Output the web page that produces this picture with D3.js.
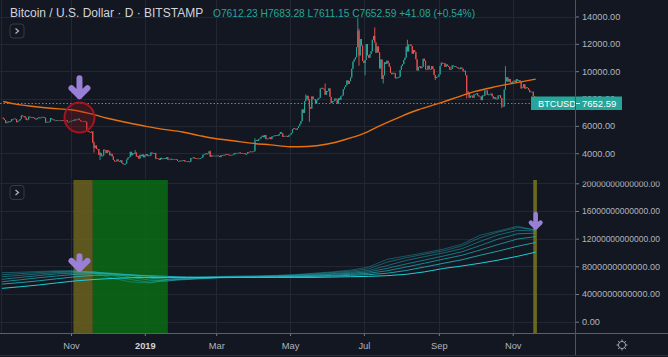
<!DOCTYPE html>
<html><head><meta charset="utf-8">
<script src="https://cdn.jsdelivr.net/npm/d3@7"></script>
<style>
html,body{margin:0;padding:0;background:#131722;overflow:hidden}
svg{display:block}
text{font-family:"Liberation Sans",Arial,sans-serif}
</style>
</head><body><svg id="c" width="668" height="357"></svg>
<script>
// ---------------- DATA ----------------
const title = "Bitcoin / U.S. Dollar · D · BITSTAMP";
const ohlcText = "O7612.23 H7683.28 L7611.15 C7652.59 +41.08 (+0.54%)";
const symbol = "BTCUSD";
const lastPrice = 7652.59;
const firstOpen = 6600;

const monthStarts = ["2018-09-06","2018-10-01","2018-11-01","2018-12-01","2019-01-01","2019-02-01","2019-03-01",
  "2019-04-01","2019-05-01","2019-06-01","2019-07-01","2019-08-01","2019-09-01","2019-10-01","2019-11-01"];
const monthCloses = [
 [6520,6420,6200,6250,6320,6290,6330,6500,6500,6530,6500,6270,6350,6400,6500,6760,6720,6710,6600,6430,6460,6680,6640,6600,6630],
 [6590,6510,6480,6570,6610,6570,6600,6660,6640,6590,6250,6290,6300,6290,6560,6480,6470,6400,6390,6410,6410,6400,6400,6420,6400,6410,6420,6410,6270,6280,6320],
 [6360,6400,6370,6480,6410,6460,6530,6420,6340,6360,6360,6350,6300,5650,5600,5540,5520,5590,4770,4390,4560,4320,4300,3880,4000,3780,3820,4260,4230,4010],
 [4200,4130,3850,3950,3760,3500,3400,3410,3540,3420,3380,3480,3280,3200,3200,3230,3530,3670,3720,4100,3850,4000,3960,4050,3760,3800,3600,3880,3780,3900,3700],
 [3850,3940,3790,3840,3820,4050,3990,4000,4020,3640,3630,3600,3500,3660,3570,3610,3650,3590,3700,3530,3550,3590,3560,3580,3570,3570,3530,3430,3400,3460,3440],
 [3470,3500,3400,3410,3430,3380,3370,3650,3650,3690,3620,3640,3620,3600,3620,3640,3690,3890,3920,3980,3930,3980,4130,3750,3830,3800,3820,3820],
 [3830,3830,3800,3710,3860,3870,3880,3860,3940,3920,3860,3880,3870,3870,3910,4020,3990,3990,4020,4050,3990,4000,4010,3990,3920,3950,4080,4070,4130,4120,4110],
 [4140,4890,4970,4900,5030,5070,5190,5280,5170,5330,5030,5070,5080,5150,5030,5220,5260,5300,5280,5330,5290,5400,5550,5450,5200,5260,5270,5260,5200,5320],
 [5370,5480,5750,5820,5770,5720,5840,5980,6150,6350,7200,6950,7800,7980,8200,7870,7350,7260,8150,7960,7950,7630,7880,7990,8060,8730,8780,8720,8660,8270,8550],
 [8550,8740,8120,7680,7790,7810,8000,7930,7630,8020,7900,8170,8230,8680,8850,8980,9320,9080,9270,9530,10180,10700,10860,11020,11750,12950,11150,12350,11870,10750],
 [10600,10820,11980,11160,10980,11250,11460,12300,12570,12100,11350,11810,11380,10200,10850,9430,9700,10640,10530,10760,10590,10330,9880,9780,9880,9850,9480,9530,9510,9590,10090],
 [10400,10520,10820,10990,11790,11440,11950,11950,11840,11280,11540,11390,10870,10050,10310,10350,10220,10320,10910,10760,10130,10110,10400,10150,10130,10360,10160,9720,9490,9580,9600],
 [9760,10380,10620,10590,10580,10320,10490,10390,10320,10110,10160,10420,10360,10370,10310,10260,10190,10160,10270,10180,9990,10030,9700,8530,8430,8060,8200,8210,8060,8300],
 [8320,8380,8230,8150,8150,7880,8220,8200,8590,8590,8270,8300,8290,8360,8160,8000,8080,7960,7960,8230,8230,8030,7470,7420,8660,9260,9550,9240,9430,9180,9150],
 [9250,9310,9200,9410,9310,9350,9210,8770,8810,9040,8730,8820,8770,8640,8470,8500,8500,8180,8120,8090]
];
const wickDates = ["2018-11-20","2018-11-25","2018-12-15","2018-12-24","2019-01-10","2019-02-24","2019-04-02","2019-05-14",
  "2019-05-17","2019-05-30","2019-06-26","2019-06-27","2019-07-02","2019-07-10","2019-07-17","2019-08-06","2019-08-29",
  "2019-09-24","2019-10-23","2019-10-25","2019-10-26","2019-11-08"];
const wickHighs = [4850,4100,null,4230,null,4200,5100,8300,7950,9100,13880,13100,null,13200,null,12300,null,null,null,null,10370,null];
const wickLows  = [4050,3500,3150,null,3560,3730,null,null,6300,null,11750,10400,9700,null,9100,null,9350,8000,7300,7400,8970,8700];

// 200-day moving average
const maDates = ["2018-09-06","2018-09-15","2018-10-01","2018-10-15","2018-11-01","2018-11-15","2018-12-01","2018-12-15",
  "2019-01-01","2019-01-15","2019-02-01","2019-02-15","2019-03-01","2019-03-15","2019-04-01","2019-04-15","2019-05-01",
  "2019-05-15","2019-06-01","2019-06-15","2019-07-01","2019-07-15","2019-08-01","2019-08-15","2019-09-01","2019-09-15",
  "2019-10-01","2019-10-15","2019-11-01","2019-11-20"];
const maValues = [7780,7610,7420,7285,7175,6935,6560,6280,5985,5760,5550,5290,5060,4910,4715,4610,4470,4490,4670,4985,
  5450,6040,6700,7180,7650,8060,8520,8810,9110,9420];

// lower pane ribbon (units of 1e12)
const ribbonDates = ["2018-09-05","2018-09-20","2018-10-05","2018-10-20","2018-11-05","2018-11-20","2018-12-05","2018-12-20",
  "2019-01-05","2019-01-20","2019-02-05","2019-02-20","2019-03-05","2019-03-20","2019-04-05","2019-04-20","2019-05-05",
  "2019-05-20","2019-06-05","2019-06-20","2019-07-05","2019-07-20","2019-08-05","2019-08-20","2019-09-05","2019-09-20",
  "2019-10-05","2019-10-20","2019-11-05","2019-11-20"];
const ribbon1 = [7.08,7.15,7.25,7.35,7.35,7.05,6.30,5.75,5.60,6.15,6.40,6.50,6.55,6.60,6.60,6.70,6.80,7.00,7.20,7.45,7.90,9.00,9.50,9.95,10.50,11.20,12.50,13.10,13.80,13.20];
const ribbon2 = [6.79,6.95,7.10,7.25,7.30,7.20,6.75,6.10,5.70,5.90,6.30,6.45,6.50,6.55,6.60,6.65,6.75,6.90,7.10,7.30,7.65,8.60,9.25,9.75,10.25,10.95,12.15,12.95,13.60,13.30];
const ribbon3 = [6.50,6.70,6.90,7.10,7.20,7.20,6.95,6.45,6.00,5.90,6.10,6.35,6.45,6.50,6.55,6.60,6.70,6.80,6.95,7.15,7.40,8.10,8.85,9.40,9.95,10.55,11.60,12.55,13.20,13.10];
const ribbon4 = [6.12,6.40,6.65,6.90,7.05,7.10,7.00,6.70,6.30,6.10,6.10,6.25,6.40,6.45,6.50,6.55,6.60,6.70,6.85,7.00,7.20,7.70,8.35,8.90,9.50,10.10,11.00,11.95,12.70,12.80];
const ribbon5 = [5.78,6.05,6.35,6.60,6.85,6.95,6.95,6.80,6.55,6.35,6.25,6.25,6.35,6.40,6.45,6.50,6.55,6.60,6.70,6.85,7.00,7.35,7.90,8.45,9.05,9.60,10.35,11.15,11.95,12.30];
const ribbon6 = [5.44,5.65,5.90,6.20,6.50,6.70,6.75,6.75,6.65,6.55,6.45,6.40,6.40,6.40,6.40,6.45,6.50,6.55,6.60,6.70,6.80,7.00,7.40,7.90,8.45,8.95,9.60,10.20,10.90,11.45];
const ribbon7 = [4.82,5.05,5.30,5.60,5.90,6.10,6.25,6.35,6.40,6.40,6.40,6.40,6.40,6.40,6.40,6.40,6.40,6.40,6.45,6.50,6.55,6.65,6.85,7.20,7.70,8.05,8.45,8.90,9.45,10.05];

// highlighted periods in lower pane
const bandStarts = ["2018-11-03","2018-11-19","2019-11-18"];
const bandEnds   = ["2018-11-19","2019-01-20","2019-11-21"];
const bandKinds  = ["yellow","green","yellow2"];

// annotations
const arrowDates = ["2018-11-08","2018-11-08","2019-11-20"];
const arrowPane  = ["price","ribbon","ribbon"];
const arrowTail  = [9700, 9.9, 15.9];
const arrowTip   = [7950, 7.2, 13.3];
const circleDate = "2018-11-08", circlePrice = 6610;

// axis ticks
const priceTicks = [4000,6000,8000,10000,12000,14000];
const ribbonTicks = [0,4,8,12,16,20];
const monthTicks = ["2018-11-01","2019-01-01","2019-03-01","2019-05-01","2019-07-01","2019-09-01","2019-11-01"];
const monthLabels = ["Nov","2019","Mar","May","Jul","Sep","Nov"];

// ---------------- CHART ----------------
(function(){
const parse = d3.utcParse("%Y-%m-%d");
const svg = d3.select("#c");
const W = 668, H = 357, plotR = 575, topPaneB = 179, botPaneT = 180, axisY = 333;
const C = {bg:"#131722", grid:"#232733", text:"#b2b5be", up:"#26a69a", down:"#ef5350"};

svg.append("rect").attr("width",W).attr("height",H).attr("fill",C.bg);

const x = d3.scaleUtc().domain([parse("2018-11-01"), parse("2019-11-01")]).range([71, 512.7]);
const yP = d3.scaleLinear().domain([4000,14000]).range([153.2,16.5]);
const yR = d3.scaleLinear().domain([0,20]).range([321.7,183.3]);

const defs = svg.append("defs");
defs.append("clipPath").attr("id","clipTop").append("rect").attr("x",0).attr("y",0).attr("width",plotR).attr("height",topPaneB);
defs.append("clipPath").attr("id","clipBot").append("rect").attr("x",0).attr("y",botPaneT).attr("width",plotR).attr("height",axisY-botPaneT);
defs.append("clipPath").attr("id","clipBotAxis").append("rect").attr("x",0).attr("y",181.5).attr("width",W-plotR).attr("height",axisY-181.5);

// grid
const grid = svg.append("g").attr("stroke",C.grid).attr("stroke-width",1);
priceTicks.forEach(v=>{ const y=Math.round(yP(v))+0.5; grid.append("line").attr("x1",0).attr("x2",plotR).attr("y1",y).attr("y2",y); });
ribbonTicks.forEach(v=>{ const y=Math.round(yR(v))+0.5; grid.append("line").attr("x1",0).attr("x2",plotR).attr("y1",y).attr("y2",y); });
monthTicks.forEach(d=>{ const xx=Math.round(x(parse(d)))+0.5;
  grid.append("line").attr("x1",xx).attr("x2",xx).attr("y1",0).attr("y2",topPaneB);
  grid.append("line").attr("x1",xx).attr("x2",xx).attr("y1",botPaneT).attr("y2",axisY); });
grid.append("line").attr("x1",1.5).attr("x2",1.5).attr("y1",0).attr("y2",axisY);

// ---- candles
const wickMap = new Map(wickDates.map((d,i)=>[d,{h:wickHighs[i],l:wickLows[i]}]));
const fmtKey = d3.utcFormat("%Y-%m-%d");
const candles = [];
let prev = firstOpen;
monthStarts.forEach((ms,mi)=>{
  const d0 = parse(ms);
  monthCloses[mi].forEach((c,i)=>{
    const date = d3.utcDay.offset(d0,i);
    const w = wickMap.get(fmtKey(date)) || {};
    const o = prev;
    candles.push({date, o, c, h: Math.max(o,c,w.h ?? -Infinity), l: Math.min(o,c,w.l ?? Infinity)});
    prev = c;
  });
});
const step = x(parse("2019-01-02")) - x(parse("2019-01-01"));
const bw = step*0.85;
const topG = svg.append("g").attr("clip-path","url(#clipTop)");
const cg = topG.append("g");
cg.selectAll("line.w").data(candles).join("line").attr("class","w")
  .attr("x1",d=>x(d.date)).attr("x2",d=>x(d.date)).attr("y1",d=>yP(d.h)).attr("y2",d=>yP(d.l))
  .attr("stroke",d=>d.c>=d.o?C.up:C.down).attr("stroke-width",0.9);
cg.selectAll("rect").data(candles).join("rect")
  .attr("x",d=>x(d.date)-bw/2).attr("width",bw)
  .attr("y",d=>yP(Math.max(d.o,d.c))).attr("height",d=>Math.max(0.8, Math.abs(yP(d.o)-yP(d.c))))
  .attr("fill",d=>d.c>=d.o?C.up:C.down);

// MA line
topG.append("path").datum(maDates.map((d,i)=>[parse(d),maValues[i]]))
  .attr("fill","none").attr("stroke","#e8700f").attr("stroke-width",1.4)
  .attr("d", d3.line().x(d=>x(d[0])).y(d=>yP(d[1])).curve(d3.curveMonotoneX));

// last price dotted line
const yLast = Math.round(yP(lastPrice))+0.5;
topG.append("line").attr("x1",0).attr("x2",plotR).attr("y1",yLast).attr("y2",yLast)
  .attr("stroke",C.up).attr("stroke-width",1).attr("stroke-dasharray","1.5,2");

// red circle
topG.append("circle").attr("cx",x(parse(circleDate))).attr("cy",yP(circlePrice)).attr("r",15)
  .attr("fill","rgba(150,20,30,0.3)").attr("stroke","#a3161f").attr("stroke-width",2);

// ---- lower pane
const botG = svg.append("g").attr("clip-path","url(#clipBot)");
const bandFill = {yellow:"rgba(112,102,30,0.8)", green:"rgba(10,112,20,0.8)", yellow2:"rgba(122,120,28,0.85)"};
bandStarts.forEach((s,i)=>{
  botG.append("rect").attr("x",x(parse(s))).attr("width",x(parse(bandEnds[i]))-x(parse(s)))
    .attr("y",botPaneT).attr("height",axisY-botPaneT).attr("fill",bandFill[bandKinds[i]]);
});
const ribbons = [ribbon1,ribbon2,ribbon3,ribbon4,ribbon5,ribbon6,ribbon7];
const ribbonOpacity = [0.4,0.45,0.5,0.6,0.7,0.85,1];
const rDates = ribbonDates.map(parse);
ribbons.forEach((arr,k)=>{
  botG.append("path").datum(arr).attr("fill","none")
    .attr("stroke", k===6 ? "#1ad0d6" : "#1eb5bd").attr("stroke-opacity",ribbonOpacity[k]).attr("stroke-width",1)
    .attr("d", d3.line().x((d,i)=>x(rDates[i])).y(d=>yR(d)));
});

// arrows
function drawArrow(g, cx, yTail, yTip, sw, half){
  const hh = half;
  g.append("path")
   .attr("d",`M${cx},${yTail+sw/2}L${cx},${yTip-sw/2}M${cx-hh},${yTip-sw/2-hh}L${cx},${yTip-sw/2}L${cx+hh},${yTip-sw/2-hh}`)
   .attr("fill","none").attr("stroke","#9a7fd6").attr("stroke-width",sw)
   .attr("stroke-linecap","round").attr("stroke-linejoin","round");
}
arrowDates.forEach((d,i)=>{
  const cx = x(parse(d));
  if(arrowPane[i]==="price") drawArrow(topG, cx, yP(arrowTail[i]), yP(arrowTip[i]), 6, 8);
  else if(i===1) drawArrow(botG, cx, yR(arrowTail[i]), yR(arrowTip[i]), 6, 8);
  else drawArrow(botG, cx, yR(arrowTail[i]), yR(arrowTip[i]), 4.5, 4.8);
});

// ---- axes
const axP = svg.append("g").attr("transform",`translate(${plotR},0)`)
  .call(d3.axisRight(yP).tickValues(priceTicks).tickFormat(d3.format(".2f")).tickSize(4).tickPadding(3));
const axR = svg.append("g").attr("transform",`translate(${plotR},0)`).attr("clip-path","url(#clipBotAxis)")
  .call(d3.axisRight(yR).tickValues(ribbonTicks).tickFormat(d=>d3.format(".2f")(d*1e12)).tickSize(4).tickPadding(3));
[axP,axR].forEach(a=>{
  a.select(".domain").remove();
  a.selectAll(".tick line").attr("stroke","#787b86");
  a.selectAll(".tick text").attr("fill",C.text).attr("font-size","9.2px").attr("font-family","Liberation Sans, Arial, sans-serif");
});
axR.selectAll(".tick text").each(function(d){ if(d>0) d3.select(this).attr("textLength",78).attr("lengthAdjust","spacingAndGlyphs"); });

const axX = svg.append("g").attr("transform",`translate(0,${axisY})`)
  .call(d3.axisBottom(x).tickValues(monthTicks.map(parse)).tickFormat((d,i)=>monthLabels[i]).tickSize(3).tickPadding(6));
axX.select(".domain").remove();
axX.selectAll(".tick line").attr("stroke","#787b86");
axX.selectAll(".tick text").attr("font-size","9.3px").attr("font-family","Liberation Sans, Arial, sans-serif")
  .attr("font-weight",(d,i)=>monthLabels[i]==="2019"?"bold":"normal")
  .attr("fill",(d,i)=>monthLabels[i]==="2019"?"#d1d4dc":C.text);

// frame lines
svg.append("line").attr("x1",0).attr("x2",W).attr("y1",axisY+0.5).attr("y2",axisY+0.5).attr("stroke","#5d606b");
svg.append("line").attr("x1",0).attr("x2",W).attr("y1",355.5).attr("y2",355.5).attr("stroke","#2a2e39");

// last price label
const lbl = svg.append("g");
lbl.append("rect").attr("x",531).attr("y",yLast-7).attr("width",91).attr("height",13.5).attr("fill",C.up);
lbl.append("text").attr("x",538).attr("y",yLast+3.5).attr("fill","#fff").attr("font-size","9.2px").text(symbol);
lbl.append("line").attr("x1",576).attr("x2",580).attr("y1",yLast).attr("y2",yLast).attr("stroke","#fff");
lbl.append("text").attr("x",582).attr("y",yLast+3.5).attr("fill","#fff").attr("font-size","9.5px").text(d3.format(".2f")(lastPrice));

svg.append("line").attr("x1",plotR+0.5).attr("x2",plotR+0.5).attr("y1",0).attr("y2",355).attr("stroke","#50535e");

// header
svg.append("text").attr("x",10).attr("y",17).attr("fill","#d1d4dc").attr("font-size","12px").text(title);
svg.append("text").attr("x",213).attr("y",17).attr("fill",C.up).attr("font-size","10.2px").text(ohlcText);

// pane buttons
function button(x0,y0){
  svg.append("rect").attr("x",x0+0.5).attr("y",y0+0.5).attr("width",14).attr("height",14).attr("rx",3)
    .attr("fill","none").attr("stroke","#363a45");
  svg.append("path").attr("d",`M${x0+6},${y0+5}L${x0+9},${y0+7.5}L${x0+6},${y0+10}`).attr("fill","none")
    .attr("stroke","#b2b5be").attr("stroke-width",1.2);
}
button(9.5,23.5);
button(9.5,185);

// settings gear
const gear = svg.append("g").attr("transform","translate(622,345)").attr("stroke","#a0a3ad").attr("fill","none");
gear.append("circle").attr("r",3.6).attr("stroke-width",1);
d3.range(8).forEach(k=>{ const a=k*Math.PI/4;
  gear.append("line").attr("x1",Math.cos(a)*3.6).attr("y1",Math.sin(a)*3.6).attr("x2",Math.cos(a)*5.5).attr("y2",Math.sin(a)*5.5).attr("stroke-width",1); });
})();
</script></body></html>
